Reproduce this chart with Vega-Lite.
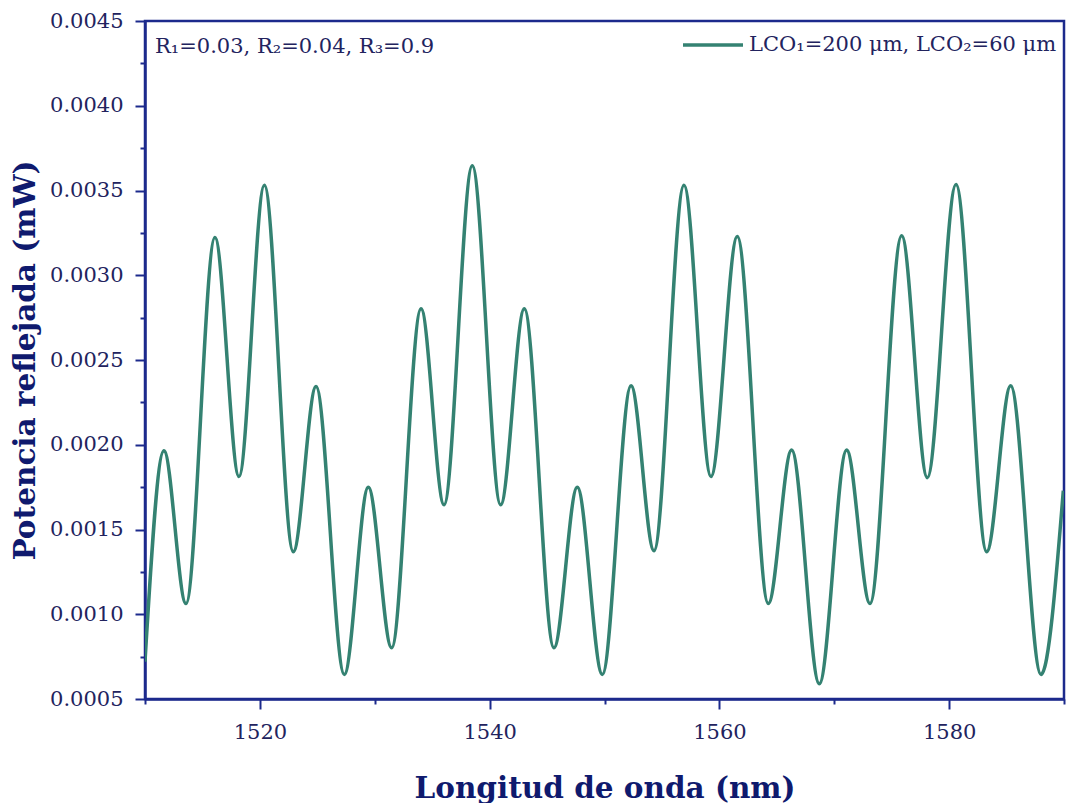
{
  "$schema": "https://vega.github.io/schema/vega-lite/v6.json",
  "width": 919,
  "height": 678,
  "autosize": {"type": "none"},
  "padding": {"left": 145, "top": 21, "right": 4, "bottom": 104},
  "background": "white",
  "config": {
    "view": {"stroke": "#1c2a8c", "strokeWidth": 2.5},
    "font": "DejaVu Serif",
    "axis": {
      "grid": false,
      "domainColor": "#1c2a8c",
      "domainWidth": 2.5,
      "tickColor": "#1c2a8c",
      "tickWidth": 2,
      "labelFont": "DejaVu Serif",
      "labelFontSize": 21,
      "labelColor": "#22235e",
      "labelPadding": 12,
      "titleFont": "DejaVu Serif",
      "titleFontSize": 29.5,
      "titleFontWeight": "bold",
      "titleColor": "#0f1a6e"
    }
  },
  "data": {
    "values": [
      {"wl": 1510.00, "p": 0.00072},
      {"wl": 1511.65, "p": 0.001965},
      {"wl": 1513.57, "p": 0.001063},
      {"wl": 1516.09, "p": 0.003223},
      {"wl": 1518.18, "p": 0.001813},
      {"wl": 1520.39, "p": 0.003531},
      {"wl": 1522.91, "p": 0.001369},
      {"wl": 1524.89, "p": 0.002344},
      {"wl": 1527.35, "p": 0.000645},
      {"wl": 1529.44, "p": 0.00175},
      {"wl": 1531.47, "p": 0.000802},
      {"wl": 1534.03, "p": 0.002802},
      {"wl": 1536.03, "p": 0.001646},
      {"wl": 1538.49, "p": 0.003646},
      {"wl": 1540.96, "p": 0.001646},
      {"wl": 1543.02, "p": 0.002802},
      {"wl": 1545.60, "p": 0.000802},
      {"wl": 1547.63, "p": 0.00175},
      {"wl": 1549.81, "p": 0.000645},
      {"wl": 1552.31, "p": 0.002348},
      {"wl": 1554.31, "p": 0.001375},
      {"wl": 1556.92, "p": 0.003531},
      {"wl": 1559.27, "p": 0.001813},
      {"wl": 1561.56, "p": 0.003229},
      {"wl": 1564.26, "p": 0.001063},
      {"wl": 1566.29, "p": 0.001969},
      {"wl": 1568.70, "p": 0.00059},
      {"wl": 1571.08, "p": 0.001969},
      {"wl": 1573.11, "p": 0.001063},
      {"wl": 1575.87, "p": 0.003233},
      {"wl": 1578.10, "p": 0.001806},
      {"wl": 1580.60, "p": 0.003536},
      {"wl": 1583.27, "p": 0.001369},
      {"wl": 1585.36, "p": 0.002348},
      {"wl": 1588.00, "p": 0.000645},
      {"wl": 1589.94, "p": 0.001729}
    ]
  },
  "layer": [
    {
      "mark": {"type": "line", "interpolate": "monotone", "strokeWidth": 3.5, "clip": true},
      "encoding": {
        "x": {
          "field": "wl",
          "type": "quantitative",
          "scale": {"domain": [1510, 1590], "nice": false, "zero": false},
          "axis": {
            "title": "Longitud de onda (nm)",
            "values": [1510, 1520, 1530, 1540, 1550, 1560, 1570, 1580, 1590],
            "format": "d",
            "labelExpr": "datum.value % 20 == 0 ? datum.label : ''",
            "tickSize": {"condition": {"test": "datum.value % 20 == 0", "value": 10}, "value": 5},
            "titleBaseline": "alphabetic",
            "titleY": 98
          }
        },
        "y": {
          "field": "p",
          "type": "quantitative",
          "scale": {"domain": [0.0005, 0.0045], "nice": false, "zero": false},
          "axis": {
            "title": "Potencia reflejada (mW)",
            "values": [0.0005, 0.00075, 0.001, 0.00125, 0.0015, 0.00175, 0.002, 0.00225, 0.0025, 0.00275, 0.003, 0.00325, 0.0035, 0.00375, 0.004, 0.00425, 0.0045],
            "format": ".4f",
            "labelExpr": "abs(datum.value*2000 - round(datum.value*2000)) < 0.01 ? datum.label : ''",
            "tickSize": {"condition": {"test": "abs(datum.value*2000 - round(datum.value*2000)) < 0.01", "value": 10}, "value": 5},
            "titleBaseline": "alphabetic",
            "titleX": -111
          }
        },
        "color": {
          "datum": "LCO₁=200 μm, LCO₂=60 μm",
          "type": "nominal",
          "scale": {"range": ["#348272"]},
          "legend": {
            "orient": "none",
            "legendX": 536,
            "legendY": -8,
            "title": null,
            "symbolType": "stroke",
            "symbolSize": 3600,
            "symbolStrokeWidth": 3.5,
            "labelFont": "DejaVu Serif",
            "labelFontSize": 21,
            "labelColor": "#22235e",
            "labelOffset": 4,
            "labelLimit": 600,
            "padding": 0
          }
        }
      }
    },
    {
      "data": {"values": [{"note": "R₁=0.03, R₂=0.04, R₃=0.9"}]},
      "mark": {"type": "text", "align": "left", "baseline": "alphabetic", "fontSize": 21, "font": "DejaVu Serif", "color": "#22235e"},
      "encoding": {
        "x": {"datum": 1510.87, "type": "quantitative"},
        "y": {"datum": 0.00431, "type": "quantitative"},
        "text": {"field": "note", "type": "nominal"}
      }
    }
  ]
}
